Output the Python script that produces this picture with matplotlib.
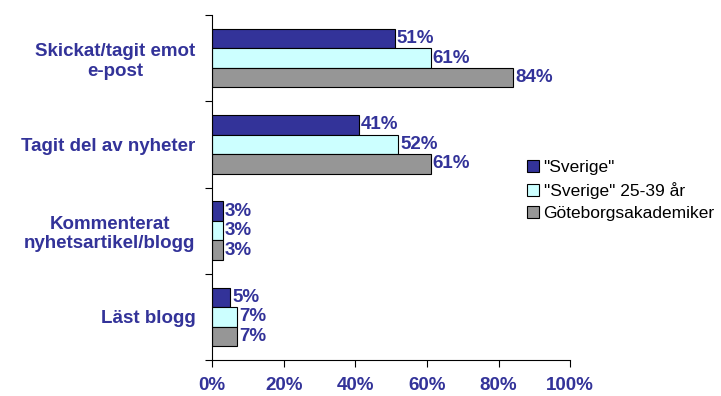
import matplotlib.pyplot as plt
import numpy as np

# data
categories = ["Skickat/tagit emot\ne-post", "Tagit del av nyheter",
              "Kommenterat\nnyhetsartikel/blogg", "Läst blogg"]
sverige = [51, 41, 3, 5]
sverige_25_39 = [61, 52, 3, 7]
gbg_akademiker = [84, 61, 3, 7]
series_names = ['"Sverige"', '"Sverige" 25-39 år', "Göteborgsakademiker"]
colors = ["#333399", "#CCFFFF", "#969696"]
label_color = "#333399"

plt.rcParams["font.family"] = ["Liberation Sans", "DejaVu Sans"]

fig = plt.figure(figsize=(7.21, 3.96), dpi=100)
ax = fig.add_axes([0.294, 0.091, 0.497, 0.871])

n = len(categories)
y = np.arange(n)
h = 0.226
all_series = [sverige, sverige_25_39, gbg_akademiker]
for i, vals in enumerate(all_series):
    pos = y + (i - 1) * h
    ax.barh(pos, vals, height=h, color=colors[i], edgecolor="black",
            linewidth=0.8, label=series_names[i])
    for p, v in zip(pos, vals):
        ax.text(v + 0.6, p, f"{v}%", va="center", ha="left",
                fontsize=13.5, fontweight="bold", color=label_color)

ax.set_xlim(0, 100)
ax.set_ylim(n - 0.5, -0.5)
ax.set_xticks(range(0, 101, 20))
ax.set_xticklabels([f"{t}%" for t in range(0, 101, 20)], fontsize=13.5,
                   fontweight="bold", color=label_color)

# category labels between boundary ticks
ax.set_yticks(np.arange(n + 1) - 0.5)
ax.set_yticklabels([])
ax.set_yticks(y, minor=True)
ax.set_yticklabels(categories, minor=True, fontsize=13.5, fontweight="bold",
                   color=label_color, multialignment="center")
ax.tick_params(axis="y", which="minor", length=0, pad=12)
ax.tick_params(axis="y", which="major", length=5, direction="out")
ax.tick_params(axis="x", length=5, direction="out", pad=7)

for s in ["top", "right"]:
    ax.spines[s].set_visible(False)

ax.legend(loc="upper left", bbox_to_anchor=(0.86, 0.6), frameon=False,
          fontsize=12.5, handlelength=0.7, handleheight=0.7, handletextpad=0.25,
          labelspacing=0.4, borderaxespad=0)

fig.savefig("out.png", dpi=100)
